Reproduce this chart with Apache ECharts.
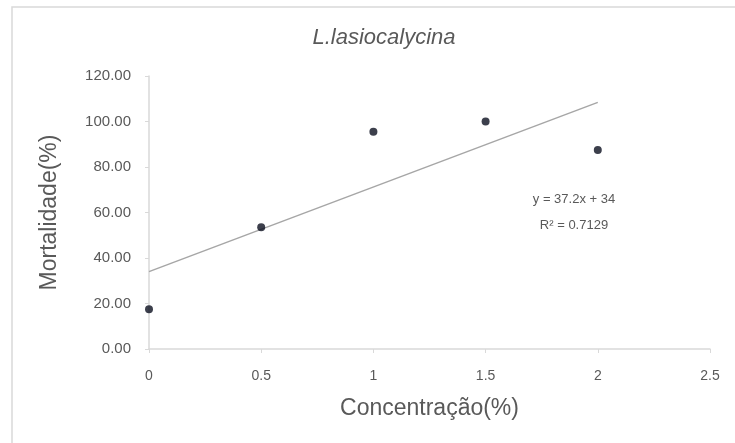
<!DOCTYPE html>
<html>
<head>
<meta charset="utf-8">
<script src="https://cdn.jsdelivr.net/npm/echarts@6/dist/echarts.min.js"></script>
<style>
  html, body { margin: 0; padding: 0; background: #fff; }
  #chart { width: 735px; height: 443px; }
</style>
</head>
<body>
<div id="chart"></div>
<script>
// dados
var concentracao = [0, 0.5, 1, 1.5, 2]
var mortalidade = [17.5, 53.5, 95.5, 100, 87.5]
// linha de tendência y = 37.2x + 34
var tendenciaX = [0, 2]
var tendenciaY = [34, 108.4]
var equacao = ['y = 37.2x + 34', 'R² = 0.7129']

var chart = echarts.init(document.getElementById('chart'))

var option = {
  animation: false,
  backgroundColor: '#fff',
  title: {
    text: 'L.lasiocalycina',
    left: 379,
    top: 22,
    textAlign: 'center',
    textStyle: {
      fontFamily: 'Liberation Sans',
      fontStyle: 'italic',
      fontWeight: 'normal',
      fontSize: 22,
      color: '#595959'
    }
  },
  grid: {
    left: 149,
    right: 25,
    top: 76,
    bottom: 94
  },
  xAxis: {
    type: 'value',
    min: 0,
    max: 2.5,
    interval: 0.5,
    name: 'Concentração(%)',
    nameLocation: 'middle',
    nameGap: 48,
    nameTextStyle: { fontFamily: 'Liberation Sans', fontSize: 23, color: '#595959' },
    axisLine: { show: true, lineStyle: { color: '#d9d9d9', width: 1.5 } },
    axisTick: { show: true, length: 4, inside: false, lineStyle: { color: '#d9d9d9' } },
    axisLabel: { margin: 20, fontFamily: 'Liberation Sans', fontSize: 14, color: '#595959' },
    splitLine: { show: false }
  },
  yAxis: {
    type: 'value',
    min: 0,
    max: 120,
    interval: 20,
    name: 'Mortalidade(%)',
    nameLocation: 'middle',
    nameGap: 88,
    nameTextStyle: { fontFamily: 'Liberation Sans', fontSize: 23, color: '#595959' },
    axisLine: { show: true, lineStyle: { color: '#d9d9d9', width: 1.5 } },
    axisTick: { show: true, length: 4, lineStyle: { color: '#d9d9d9' } },
    axisLabel: {
      margin: 18,
      fontFamily: 'Liberation Sans',
      fontSize: 15,
      color: '#595959',
      formatter: function (v) { return v.toFixed(2) }
    },
    splitLine: { show: false }
  },
  series: [
    {
      name: 'Tendência',
      type: 'line',
      data: tendenciaX.map(function (x, i) { return [x, tendenciaY[i]] }),
      symbol: 'none',
      lineStyle: { color: '#a6a6a6', width: 1.5 },
      z: 2
    },
    {
      name: 'Mortalidade',
      type: 'scatter',
      data: concentracao.map(function (x, i) { return [x, mortalidade[i]] }),
      symbolSize: 8,
      itemStyle: { color: '#0b0f1f' },
      z: 3
    }
  ],
  graphic: [
    {
      type: 'rect',
      shape: { x: 12, y: 7, width: 740, height: 450 },
      style: { fill: 'none', stroke: '#d9d9d9', lineWidth: 1.5 },
      silent: true
    },
    {
      type: 'text',
      x: 574,
      y: 186,
      style: {
        text: equacao.join('\n'),
        align: 'center',
        verticalAlign: 'top',
        lineHeight: 26,
        font: '13px "Liberation Sans"',
        fill: '#595959'
      }
    }
  ]
}

chart.setOption(option)
</script>
</body>
</html>
